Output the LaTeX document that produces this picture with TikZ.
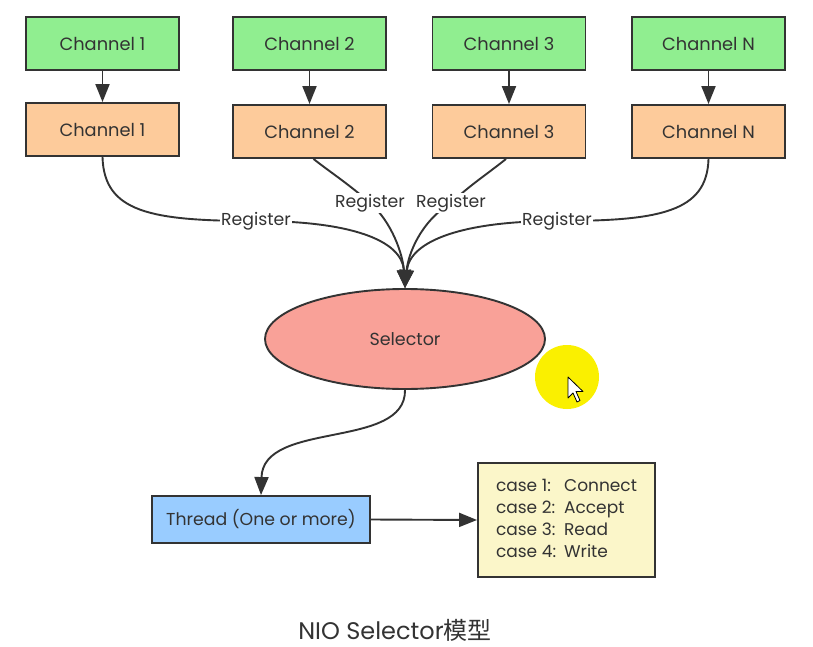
\documentclass[tikz,border=0pt]{standalone}
\usepackage{fontspec}
\setmainfont{Poppins}
\newfontfamily\cjk{Noto Sans CJK SC}
\usetikzlibrary{arrows.meta,shapes.geometric}

\definecolor{edge}{HTML}{333333}
\definecolor{txt}{HTML}{333333}
\definecolor{chgreen}{HTML}{90EE90}
\definecolor{chorange}{HTML}{FDCB9B}
\definecolor{selred}{HTML}{F9A198}
\definecolor{thblue}{HTML}{99CCFF}
\definecolor{caseyellow}{HTML}{FBF6C9}
\definecolor{spot}{RGB}{250,240,0}

\begin{document}
\begin{tikzpicture}[x=1pt,y=-1pt,
  every node/.style={text=txt},
  tip/.style={-{Triangle[length=18pt,width=14pt]}},
  link/.style={draw=edge, line width=1.9pt, tip},
  chbox/.style={draw=edge, line width=1.9pt, minimum width=153pt,
    minimum height=53pt, inner sep=0pt, font=\fontsize{17.8}{21}\selectfont},
  srcbox/.style={chbox, fill=chgreen},
  regbox/.style={chbox, fill=chorange},
  reglabel/.style={fill=white, inner sep=1pt, font=\fontsize{17.3}{20}\selectfont}]

\useasboundingbox (0,0) rectangle (813,647);
\fill[white] (0,0) rectangle (813,647);

% channel sources
\node[srcbox] (g1) at (102.5,43.5) {Channel 1};
\node[srcbox] (g2) at (309.5,43.5) {Channel 2};
\node[srcbox] (g3) at (509,43.5) {Channel 3};
\node[srcbox] (gN) at (708.5,43.5) {Channel N};

% registered channels
\node[regbox] (o1) at (102.5,129.5) {Channel 1};
\node[regbox] (o2) at (309.5,131.5) {Channel 2};
\node[regbox] (o3) at (509,131.5) {Channel 3};
\node[regbox] (oN) at (708.5,131.5) {Channel N};

\foreach \n in {1,2,3,N} \draw[link] (g\n) -- (o\n);

% selector
\node[ellipse, draw=edge, line width=1.9pt, fill=selred, minimum width=280pt,
  minimum height=100pt, inner sep=0pt, font=\fontsize{17.5}{20}\selectfont]
  (sel) at (405,339) {Selector};

% register connectors
\coordinate (r1) at (256,221);
\coordinate (r2) at (370,203);
\coordinate (r3) at (451,203);
\coordinate (r4) at (557,221);

\draw[link] (o1.south) .. controls (104,212) and (150,221) .. (r1)
  .. controls (350,221) and (402,240) .. (sel.north);
\draw[link] ([xshift=4pt]o2.south) .. controls (330,172) and (350,185) .. (r2)
  .. controls (392,222) and (403,255) .. (sel.north);
\draw[link] ([xshift=-3pt]o3.south) .. controls (490,172) and (470,185) .. (r3)
  .. controls (420,222) and (408,255) .. (sel.north);
\draw[link] (oN.south) .. controls (707,212) and (660,221) .. (r4)
  .. controls (465,221) and (410,240) .. (sel.north);

\node[reglabel] (l1) at (r1) {Register};
\node[reglabel] (l2) at (r2) {Register};
\node[reglabel] (l3) at (r3) {Register};
\node[reglabel] (l4) at (r4) {Register};

% worker thread and its cases
\node[draw=edge, line width=1.9pt, fill=thblue, minimum width=218pt,
  minimum height=47pt, inner sep=0pt, font=\fontsize{17.3}{20}\selectfont]
  (th) at (261,519.5) {Thread (One or more)};

\node[draw=edge, line width=1.9pt, fill=caseyellow, minimum width=177pt,
  minimum height=114pt, inner sep=0pt, font=\fontsize{17}{22}\selectfont]
  (cs) at (566.5,520) {%
  \begin{tabular}{@{}l@{\hspace{8pt}}l@{}}
  case 1: & Connect\\
  case 2: & Accept\\
  case 3: & Read\\
  case 4: & Write
  \end{tabular}};

\draw[link] (sel.south) .. controls (406,450) and (263,420) .. (th.north);
\draw[link] (th.east) -- (cs.west);

% pointer highlight
\fill[spot] (567,377) circle (32);
\draw[black, line width=0.8pt, fill=white, line join=round]
  (568,377) -- (568,398) -- (573,393) -- (577,402) -- (580,400.5)
  -- (576,391.5) -- (583,391.5) -- cycle;

% caption
\node[inner sep=0pt, font=\fontsize{24}{28}\selectfont] (title) at (395,630)
  {NIO Selector{\cjk 模型}};
\end{tikzpicture}
\end{document}
